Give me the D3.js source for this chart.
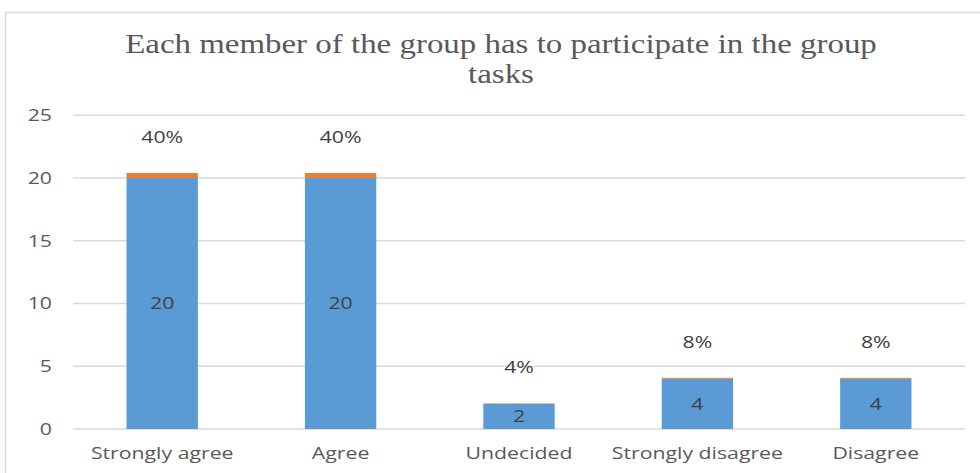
<!DOCTYPE html>
<html><head><meta charset="utf-8">
<script src="https://cdn.jsdelivr.net/npm/d3@7"></script>
<style>body{margin:0;background:#fff}</style>
</head><body>
<svg id="c" width="980" height="473"></svg>
<script>
const categories = ["Strongly agree","Agree","Undecided","Strongly disagree","Disagree"];
const counts = [20,20,2,4,4];
const percents = [0.4,0.4,0.04,0.08,0.08];
const percentLabels = ["40%","40%","4%","8%","8%"];
const yTicks = [0,5,10,15,20,25];
const title = ["Each member of the group has to participate in the group","tasks"];

const FS = 17, SX = 1.25;
const svg = d3.select("#c");
svg.append("rect").attr("x",5.5).attr("y",12.5).attr("width",1000).attr("height",500)
  .attr("fill","#fff").attr("stroke","#d9d9d9").attr("stroke-width",1.5);

const x = d3.scaleBand().domain(categories).range([73,965]).paddingInner(0.6).paddingOuter(0.3);
const y = d3.scaleLinear().domain([0,25]).range([429,115.3]);

function label(sel, fx, fy, anchor, fill, size, sx) {
  return sel.append("text")
    .attr("transform", d => `translate(${fx(d)},${fy(d)}) scale(${sx},1)`)
    .attr("text-anchor", anchor).attr("font-family","Open Sans").attr("font-size", size)
    .attr("fill", fill);
}

const g = svg.append("g");
g.selectAll("line.grid").data(yTicks).enter().append("line")
  .attr("x1",73).attr("x2",965).attr("y1",d=>y(d)).attr("y2",d=>y(d))
  .attr("stroke","#d9d9d9").attr("stroke-width",1.5);

g.selectAll("g.yt").data(yTicks).enter().append("g").call(s =>
  label(s, d=>52, d=>y(d), "end", "#595959", FS, SX).attr("dy","0.35em").text(d=>d));

const data = categories.map((c,i)=>({c, v:counts[i], p:percents[i], pl:percentLabels[i]}));
const cx = d => x(d.c)+x.bandwidth()/2;

g.selectAll("rect.b").data(data).enter().append("rect")
  .attr("x",d=>x(d.c)).attr("width",x.bandwidth())
  .attr("y",d=>y(d.v)).attr("height",d=>y(0)-y(d.v)).attr("fill","#5B9BD5");
g.selectAll("rect.o").data(data).enter().append("rect")
  .attr("x",d=>x(d.c)).attr("width",x.bandwidth())
  .attr("y",d=>y(d.v+d.p)).attr("height",d=>y(d.v)-y(d.v+d.p)).attr("fill","#ED7D31");

g.selectAll("g.v").data(data).enter().append("g").call(s =>
  label(s, cx, d=>y(d.v/2), "middle", "#404040", FS, SX).attr("dy","0.35em").text(d=>d.v));

g.selectAll("g.p").data(data).enter().append("g").call(s =>
  label(s, cx, d=>y(d.v+d.p)-36, "middle", "#404040", FS, SX).attr("dy","0.35em").text(d=>d.pl));

g.selectAll("g.x").data(data).enter().append("g").call(s =>
  label(s, cx, d=>453, "middle", "#595959", FS, SX).attr("dy","0.35em").text(d=>d.c));

svg.selectAll("text.t").data(title).enter().append("text")
  .attr("transform",(d,i)=>`translate(501,${53+i*30}) scale(1.22,1)`).attr("text-anchor","middle")
  .attr("font-family","Liberation Serif").attr("font-size",27).attr("fill","#595959").text(d=>d);
</script>
</body></html>
